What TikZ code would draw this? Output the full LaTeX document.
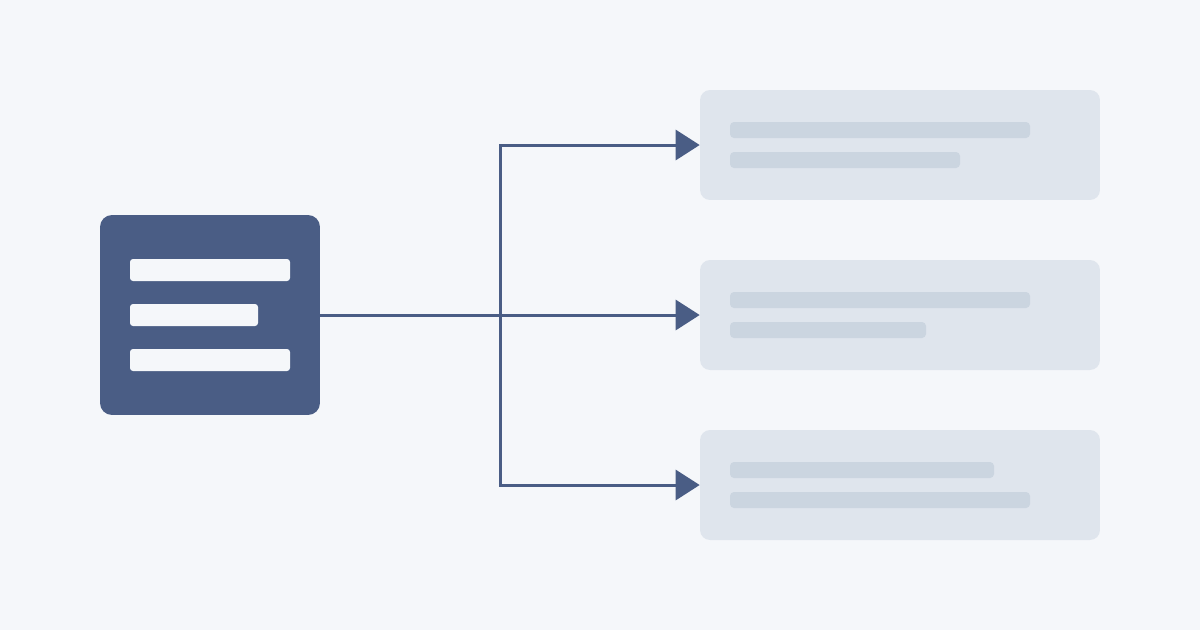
\documentclass[tikz,border=0pt]{standalone}
\usetikzlibrary{arrows.meta}
\definecolor{fond}{HTML}{F5F7FA}
\definecolor{ardoise}{HTML}{4A5D85}
\definecolor{carte}{HTML}{DFE5ED}
\definecolor{trait}{HTML}{CBD5E0}
\tikzset{
  source/.style={fill=ardoise,rounded corners=0.24cm,minimum width=4.4cm,minimum height=4cm,inner sep=0pt},
  cible/.style={fill=carte,rounded corners=0.2cm,minimum width=8cm,minimum height=2.2cm,inner sep=0pt},
  fleche/.style={draw=ardoise,line width=0.06cm,-{Triangle[length=0.48cm,width=0.6cm]}}
}
\begin{document}
\begin{tikzpicture}[x=0.02cm,y=-0.02cm] % 1 unité = 1 px
\fill[fond] (0,0) rectangle (1200,630);
\useasboundingbox (0,0) rectangle (1200,630);

\node[source] (S) at (210,315) {};
\fill[fond,rounded corners=0.06cm] (130,259) rectangle (290,281) (130,304) rectangle (258,326) (130,349) rectangle (290,371);

\node[cible] (C1) at (900,145) {};
\node[cible] (C2) at (900,315) {};
\node[cible] (C3) at (900,485) {};
\fill[trait,rounded corners=0.08cm] (730,122) rectangle (1030,138) (730,152) rectangle (960,168);
\fill[trait,rounded corners=0.08cm] (730,292) rectangle (1030,308) (730,322) rectangle (926,338);
\fill[trait,rounded corners=0.08cm] (730,462) rectangle (994,478) (730,492) rectangle (1030,508);

\coordinate (N) at (500,315);
\draw[fleche] (S.east) -- (C2.west);
\draw[fleche] (N) |- (C1.west);
\draw[fleche] (N) |- (C3.west);
\end{tikzpicture}
\end{document}
